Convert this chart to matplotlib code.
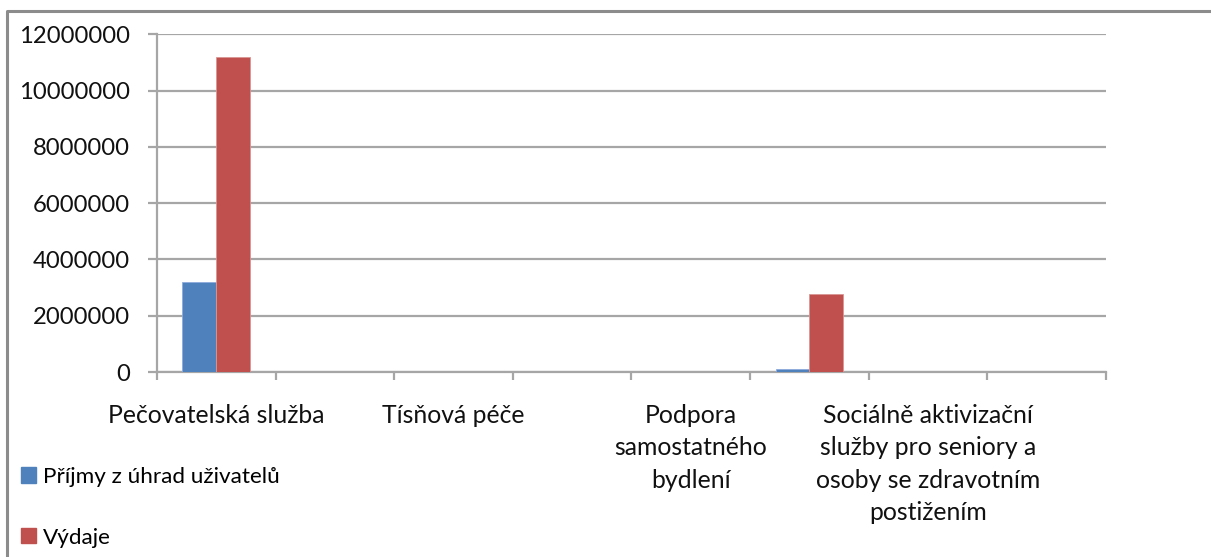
import matplotlib.pyplot as plt
from matplotlib.lines import Line2D
from matplotlib.patches import Patch
import numpy as np

plt.rcParams['font.family'] = ['Lato', 'DejaVu Sans']

categories = [
    "Pečovatelská služba", "",
    "Tísňová péče", "",
    "Podpora\nsamostatného\nbydlení", "",
    "Sociálně aktivizační\nslužby pro seniory a\nosoby se zdravotním\npostižením", "",
]
prijmy = [3210000, 0, 0, 0, 0, 110000, 0, 0]
vydaje = [11190000, 0, 0, 0, 0, 2760000, 0, 0]
yticks = [0, 2000000, 4000000, 6000000, 8000000, 10000000, 12000000]

blue = "#4F81BD"
red = "#C0504D"
grid_c = "#A6A6A6"
text_c = "#111111"

fig = plt.figure(figsize=(12.11, 5.57), dpi=100)
ax = fig.add_axes([0.1296, 0.3321, 0.7837, 0.6063])

x = np.arange(len(categories))
w = 1 / 3.5
ax.bar(x - w / 2, prijmy, w, color=blue, edgecolor="#8EAADB", linewidth=0.6, zorder=3)
ax.bar(x + w / 2, vydaje, w, color=red, edgecolor="#D99694", linewidth=0.6, zorder=3)

ax.set_xlim(-0.5, len(categories) - 0.5)
ax.set_ylim(0, 12000000)
ax.set_yticks(yticks)
ax.set_yticklabels([str(v) for v in yticks], fontsize=17.2, color=text_c)
ax.yaxis.grid(True, color=grid_c, linewidth=1.6, zorder=0)
ax.tick_params(axis='y', length=6.5, width=1.6, color=grid_c, pad=13)

ax.set_xticks(x)
ax.set_xticklabels(categories, fontsize=17.8, color=text_c, linespacing=1.5, va='top')
ax.set_xticks(np.arange(-0.5, len(categories)), minor=True)
ax.tick_params(axis='x', which='major', length=0, pad=23)
ax.tick_params(axis='x', which='minor', length=6, width=1.6, color=grid_c)

for s in ['top', 'right']:
    ax.spines[s].set_visible(False)
for s in ['left', 'bottom']:
    ax.spines[s].set_color(grid_c)
    ax.spines[s].set_linewidth(1.6)

# outer chart frame
fig.add_artist(Line2D([7 / 1211, 7 / 1211, 1.0], [0.0, 1 - 11 / 557, 1 - 11 / 557],
                      transform=fig.transFigure, color="#8C8C8C", linewidth=2.2))

handles = [Patch(facecolor=blue, edgecolor=blue), Patch(facecolor=red, edgecolor=red)]
fig.legend(handles, ["Příjmy z úhrad uživatelů", "Výdaje"], loc='upper left',
           bbox_to_anchor=(12 / 1211, 1 - 458 / 557), frameon=False, fontsize=16.2,
           handlelength=0.68, handleheight=0.68, handletextpad=0.3, labelspacing=1.8,
           borderaxespad=0)

fig.savefig("out.png", dpi=100)
